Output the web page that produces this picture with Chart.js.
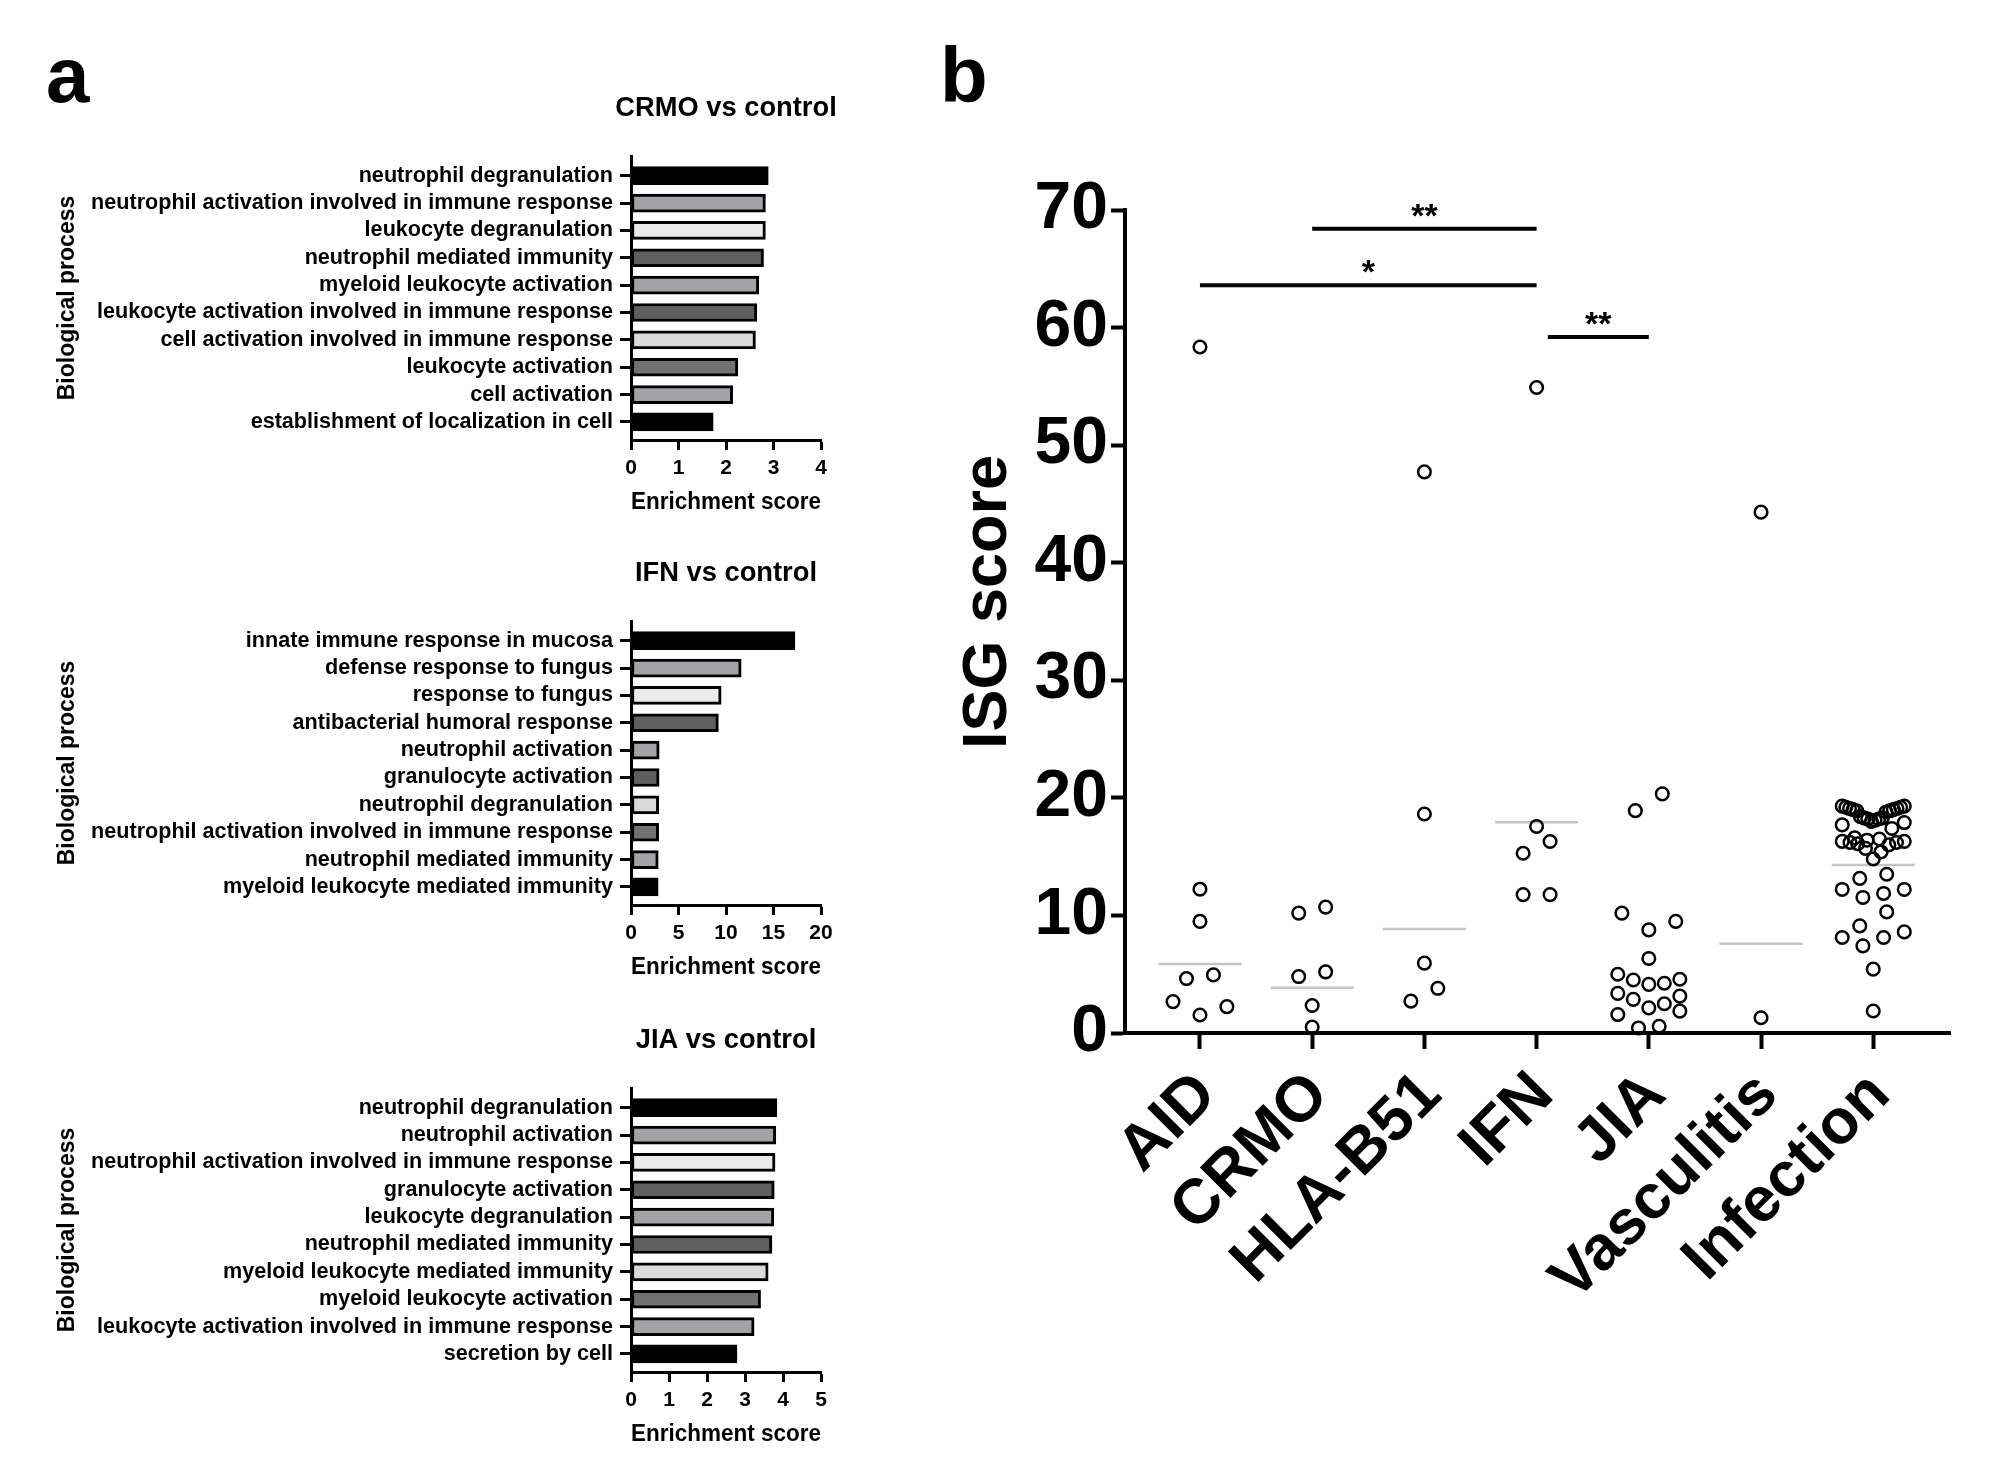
<!DOCTYPE html>
<html><head><meta charset="utf-8">
<script src="https://cdn.jsdelivr.net/npm/chart.js@4.4.1/dist/chart.umd.min.js"></script>
<style>
html,body{margin:0;padding:0;background:#fff;width:2008px;height:1469px;overflow:hidden;font-family:"Liberation Sans",Arial,sans-serif;}
.box{position:absolute;}
.lbl{position:absolute;font-weight:bold;font-size:78px;line-height:1;color:#000;}
</style></head><body>
<div class="lbl" style="left:46px;top:36px;">a</div>
<div class="lbl" style="left:940px;top:36px;">b</div>
<div class="box" style="left:0;top:60px;width:850px;height:470px;"><canvas id="c1" width="850" height="470"></canvas></div>
<div class="box" style="left:0;top:525px;width:850px;height:470px;"><canvas id="c2" width="850" height="470"></canvas></div>
<div class="box" style="left:0;top:992px;width:850px;height:470px;"><canvas id="c3" width="850" height="470"></canvas></div>
<div class="box" style="left:930px;top:120px;width:1078px;height:1349px;"><canvas id="c4" width="1078" height="1349"></canvas></div>
<script>
// ---------- Panel a data ----------
const crmoTitle = 'CRMO vs control';
const crmoTerms = ['neutrophil degranulation','neutrophil activation involved in immune response','leukocyte degranulation','neutrophil mediated immunity','myeloid leukocyte activation','leukocyte activation involved in immune response','cell activation involved in immune response','leukocyte activation','cell activation','establishment of localization in cell'];
const crmoScores = [2.89, 2.83, 2.83, 2.79, 2.69, 2.65, 2.62, 2.25, 2.14, 1.73];
const crmoTicks = {max: 4, step: 1};

const ifnTitle = 'IFN vs control';
const ifnTerms = ['innate immune response in mucosa','defense response to fungus','response to fungus','antibacterial humoral response','neutrophil activation','granulocyte activation','neutrophil degranulation','neutrophil activation involved in immune response','neutrophil mediated immunity','myeloid leukocyte mediated immunity'];
const ifnScores = [17.26, 11.6, 9.49, 9.2, 2.97, 2.96, 2.92, 2.91, 2.87, 2.86];
const ifnTicks = {max: 20, step: 5};

const jiaTitle = 'JIA vs control';
const jiaTerms = ['neutrophil degranulation','neutrophil activation','neutrophil activation involved in immune response','granulocyte activation','leukocyte degranulation','neutrophil mediated immunity','myeloid leukocyte mediated immunity','myeloid leukocyte activation','leukocyte activation involved in immune response','secretion by cell'];
const jiaScores = [3.84, 3.81, 3.79, 3.77, 3.76, 3.71, 3.61, 3.41, 3.24, 2.79];
const jiaTicks = {max: 5, step: 1};

const barFills = ['#000000','#a3a3a7','#ebebeb','#5f5f5f','#a3a3a7','#5f5f5f','#dadada','#717171','#a3a3a7','#000000'];

// ---------- Panel b data ----------
const groups = ['AID','CRMO','HLA-B51','IFN','JIA','Vasculitis','Infection'];
const isgAID = [58.35, 12.23, 9.49, 4.94, 4.63, 2.67, 2.24, 1.53];
const isgCRMO = [10.71, 10.2, 5.2, 4.8, 2.34, 0.51];
const isgHLA = [47.73, 18.63, 5.94, 3.8, 2.71];
const isgIFN = [54.9, 17.57, 16.29, 15.29, 11.77, 11.77];
const isgJIA = [20.34, 18.91, 10.2, 9.49, 8.77, 6.34, 5.0, 4.57, 4.51, 4.23, 4.14, 3.37, 3.14, 2.86, 2.49, 2.14, 1.86, 1.57, 0.57, 0.43];
const isgVasc = [44.3, 1.3];
const isgInf = [19.3, 19.3, 19.2, 19.2, 19.1, 19.1, 19.0, 19.0, 18.9, 18.9, 18.8,
  18.4, 18.3, 18.3, 18.2, 18.2, 18.1, 18.0, 17.9, 17.7, 17.4,
  16.6, 16.5, 16.4, 16.3, 16.3, 16.2, 16.2, 16.1, 16.0,
  15.7, 15.4, 14.8, 13.5, 13.15, 12.21, 12.21, 11.87, 11.53, 10.3, 9.11,
  8.6, 8.12, 8.12, 7.41, 5.43, 1.87];
const isgSeries = [isgAID, isgCRMO, isgHLA, isgIFN, isgJIA, isgVasc, isgInf];
const isgMeanShown = [true, true, true, true, false, true, true];   // JIA shows no centre line in the figure
const isgTitle = 'ISG score';
const sigBrackets = [
  {from: 1, to: 3, y: 68.4, label: '**'},
  {from: 0, to: 3, y: 63.6, label: '*'},
  {from: 3.1, to: 4, y: 59.2, label: '**'}
];

const FONT = '"Liberation Sans", Arial, sans-serif';
const bold = (size, lh) => ({family: FONT, size: size, weight: 'bold', lineHeight: lh || 1.2});

// panel title centred over the chart area (drawn without width compression)
const panelTitlePlugin = {
  id: 'panelTitle',
  afterDraw(chart, args, opts) {
    const {ctx, chartArea} = chart;
    ctx.save();
    ctx.font = 'bold ' + opts.size + 'px ' + FONT;
    ctx.fillStyle = '#000'; ctx.textAlign = 'center'; ctx.textBaseline = 'middle';
    ctx.fillText(opts.text, (chartArea.left + chartArea.right) / 2, chartArea.top - opts.gap);
    ctx.restore();
  }
};

function barChart(id, title, terms, scores, tk) {
  new Chart(document.getElementById(id), {
    type: 'bar',
    data: {datasets: [{
      data: scores.map((v, i) => ({x: v, y: i})),
      backgroundColor: barFills, borderColor: '#000', borderWidth: 3,
      borderSkipped: false, barThickness: 18
    }]},
    options: {
      indexAxis: 'y', responsive: false, animation: false,
      layout: {padding: {left: 30, right: 29, top: 96, bottom: 0}},
      plugins: {
        legend: {display: false}, tooltip: {enabled: false},
        panelTitle: {text: title, size: 27.3, gap: 48}
      },
      scales: {
        y: {
          type: 'linear', reverse: true, min: -0.72, max: 9.66, offset: false,
          afterBuildTicks: s => { s.ticks = terms.map((_, i) => ({value: i})); },
          afterFit: s => { s.width = 601; },
          ticks: {callback: v => terms[v], color: '#000', font: bold(21.6), padding: 7, autoSkip: false},
          grid: {offset: false, drawOnChartArea: false, drawTicks: true, tickLength: 11, tickWidth: 3, color: '#000'},
          border: {display: true, color: '#000', width: 3},
          title: {display: true, text: 'Biological process', color: '#000', font: bold(23), padding: {top: 24, bottom: 0}}
        },
        x: {
          type: 'linear', min: 0, max: tk.max,
          ticks: {stepSize: tk.step, color: '#000', font: bold(21), padding: 5.4, maxRotation: 0},
          grid: {drawOnChartArea: false, drawTicks: true, tickLength: 10, tickWidth: 3, color: '#000'},
          border: {display: true, color: '#000', width: 3},
          afterFit: s => { s.height = 90; },
          title: {display: true, text: 'Enrichment score', color: '#000', font: bold(23.3), padding: {top: 0, bottom: 13}}
        }
      }
    },
    plugins: [panelTitlePlugin]
  });
}
barChart('c1', crmoTitle, crmoTerms, crmoScores, crmoTicks);
barChart('c2', ifnTitle, ifnTerms, ifnScores, ifnTicks);
barChart('c3', jiaTitle, jiaTerms, jiaScores, jiaTicks);

// ---------- beeswarm layout (computed from values) ----------
const ROW_SPAN = 1.5;      // value range grouped into one row
const SPREAD = 0.553;      // total row width in category units
const MAX_STEP = 0.24;     // max spacing between neighbours in category units
function swarm(vals, ci) {
  const sorted = vals.slice().sort((a, b) => a - b);
  const rows = []; let cur = [];
  for (const v of sorted) {
    if (cur.length && v - cur[0] > ROW_SPAN) { rows.push(cur); cur = []; }
    cur.push(v);
  }
  if (cur.length) rows.push(cur);
  const pts = [];
  for (const r of rows) {
    const n = r.length;
    const d = n > 1 ? Math.min(SPREAD / (n - 1), MAX_STEP) : 0;
    const slots = [];
    if (n % 2) { slots.push(0); for (let k = 1; slots.length < n; k++) { slots.push(k * d); slots.push(-k * d); } }
    else { for (let k = 0; slots.length < n; k++) { slots.push(-(k + 0.5) * d); slots.push((k + 0.5) * d); } }
    r.forEach((v, j) => pts.push({x: ci + slots[j], y: v}));
  }
  return pts;
}
const geoMean = a => Math.exp(a.reduce((s, v) => s + Math.log(v), 0) / a.length);

const MEAN_HALF = 0.37;
const datasets = [];
isgSeries.forEach((vals, i) => {
  datasets.push({type: 'scatter', data: swarm(vals, i), order: 1,
    pointRadius: 6.3, pointBorderWidth: 2.5, pointBackgroundColor: 'rgba(0,0,0,0)', pointBorderColor: '#000'});
});
isgSeries.forEach((vals, i) => {
  if (!isgMeanShown[i]) return;
  const g = geoMean(vals);
  datasets.push({type: 'line', data: [{x: i - MEAN_HALF, y: g}, {x: i + MEAN_HALF, y: g}], order: 2,
    borderColor: '#c4c4c4', borderWidth: 2.5, pointRadius: 0, fill: false});
});

const sigPlugin = {
  id: 'sig',
  afterDatasetsDraw(chart) {
    const {ctx, scales: {x, y}, chartArea} = chart;
    ctx.save();
    ctx.strokeStyle = '#000'; ctx.fillStyle = '#000'; ctx.lineWidth = 4;
    ctx.font = 'bold 34px ' + FONT; ctx.textAlign = 'center'; ctx.textBaseline = 'alphabetic';
    sigBrackets.forEach(b => {
      const x1 = x.getPixelForValue(b.from), x2 = x.getPixelForValue(b.to), yy = y.getPixelForValue(b.y);
      ctx.beginPath(); ctx.moveTo(x1, yy); ctx.lineTo(x2, yy); ctx.stroke();
      ctx.fillText(b.label, (x1 + x2) / 2, yy - 2);
    });
    // y-axis title
    ctx.font = 'bold 63px ' + FONT; ctx.textBaseline = 'middle';
    ctx.translate(chartArea.left - 136, (chartArea.top + chartArea.bottom) / 2 - 19.5);
    ctx.rotate(-Math.PI / 2);
    ctx.fillText(isgTitle, 0, 0);
    ctx.restore();
  }
};

new Chart(document.getElementById('c4'), {
  type: 'scatter',
  data: {datasets: datasets},
  options: {
    responsive: false, animation: false, clip: false,
    layout: {padding: {left: 0, right: 58, top: 90, bottom: 0}},
    plugins: {legend: {display: false}, tooltip: {enabled: false}},
    scales: {
      x: {
        type: 'linear', min: -0.668, max: 6.684,
        afterBuildTicks: s => { s.ticks = groups.map((_, i) => ({value: i})); },
        afterFit: s => { s.height = 436; },
        ticks: {callback: v => groups[v], autoSkip: false, minRotation: 45, maxRotation: 45, color: '#000', font: bold(63), padding: 9, labelOffset: 7},
        grid: {drawOnChartArea: false, drawTicks: true, tickLength: 16, tickWidth: 4, color: '#000'},
        border: {display: true, color: '#000', width: 4}
      },
      y: {
        type: 'linear', min: 0, max: 70,
        afterFit: s => { s.width = 195; },
        ticks: {stepSize: 10, color: '#000', font: bold(66), padding: 3},
        grid: {drawOnChartArea: false, drawTicks: true, tickLength: 14, tickWidth: 4, color: '#000'},
        border: {display: true, color: '#000', width: 4}
      }
    }
  },
  plugins: [sigPlugin]
});
</script>
</body></html>
